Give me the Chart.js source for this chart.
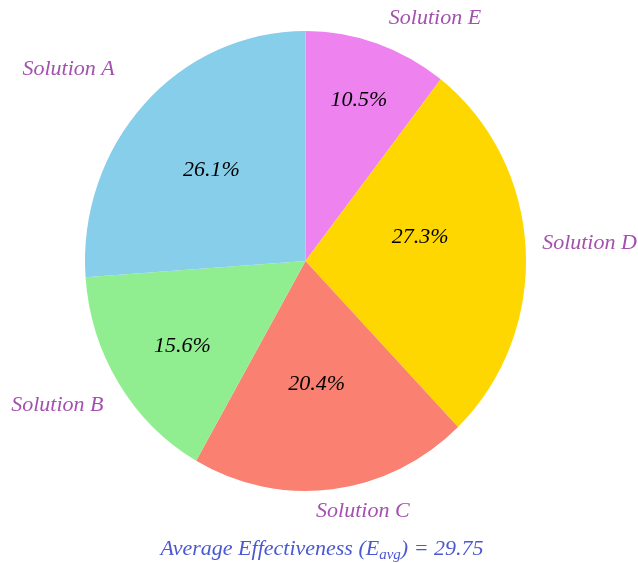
<!DOCTYPE html>
<html>
<head>
<meta charset="utf-8">
<script src="https://cdn.jsdelivr.net/npm/chart.js@4.4.1/dist/chart.umd.min.js"></script>
<style>
  html, body { margin: 0; padding: 0; background: #fff; }
  #wrap { width: 638px; height: 563px; }
</style>
</head>
<body>
<div id="wrap"><canvas id="pie" width="638" height="563"></canvas></div>
<script>
// data — listed clockwise from 12 o'clock (reference runs counter-clockwise A..E)
const labels = ['Solution E', 'Solution D', 'Solution C', 'Solution B', 'Solution A'];
const shares = [10.5, 27.3, 20.4, 15.6, 26.1];
const sliceColors = ['#EE82EE', '#FFD700', '#FA8072', '#90EE90', '#87CEEB'];
const averageValue = 29.75;

// label placement: [radial distance (x radius), angle nudge in degrees]
const PCT_POS = [[0.74, 0.2], [0.53, -8.2], [0.54, 1.7], [0.67, -1.5], [0.58, -0.3]];
const NAME_POS = [[1.12, 0.8], [1.076, -1.2], [1.09, 4.5], [1.11, -2.2], [1.2, 0.9]];

const SERIF = '"Liberation Serif", "Times New Roman", serif';
const Y_STRETCH = 230 / 220.5; // reference pie is slightly taller than wide

const ellipse = {
    id: 'ellipse',
    beforeDatasetsDraw(chart) {
        const arc = chart.getDatasetMeta(0).data[0];
        const c = chart.ctx;
        c.save();
        c.translate(arc.x, arc.y);
        c.scale(1, Y_STRETCH);
        c.translate(-arc.x, -arc.y);
    },
    afterDatasetsDraw(chart) {
        chart.ctx.restore();
    }
};

const pieText = {
    id: 'pieText',
    afterDraw(chart) {
        const c = chart.ctx;
        const arcs = chart.getDatasetMeta(0).data;
        c.save();
        c.font = 'italic 22px ' + SERIF;
        c.textBaseline = 'middle';
        arcs.forEach((arc, i) => {
            const mid = (arc.startAngle + arc.endAngle) / 2;
            const r = arc.outerRadius;

            // percentage inside
            let a = mid + PCT_POS[i][1] * Math.PI / 180;
            let d = PCT_POS[i][0] * r;
            c.fillStyle = '#000';
            c.textAlign = 'center';
            c.fillText(shares[i].toFixed(1) + '%', arc.x + Math.cos(a) * d, arc.y + Math.sin(a) * d * Y_STRETCH);

            // name outside
            a = mid + NAME_POS[i][1] * Math.PI / 180;
            d = NAME_POS[i][0] * r;
            c.fillStyle = '#A450AE';
            c.textAlign = Math.cos(a) < 0 ? 'right' : 'left';
            c.fillText(labels[i], arc.x + Math.cos(a) * d, arc.y + Math.sin(a) * d * Y_STRETCH);
        });

        // footer with subscript
        const pre = 'Average Effectiveness (E';
        const sub = 'avg';
        const post = ') = ' + averageValue;
        c.fillStyle = '#4A58D2';
        c.textAlign = 'left';
        c.textBaseline = 'alphabetic';
        c.font = 'italic 22px ' + SERIF;
        const w1 = c.measureText(pre).width;
        const w3 = c.measureText(post).width;
        c.font = 'italic 15px ' + SERIF;
        const w2 = c.measureText(sub).width;
        let x = 322 - (w1 + w2 + w3) / 2;
        const base = 555;
        c.font = 'italic 22px ' + SERIF;
        c.fillText(pre, x, base);
        x += w1;
        c.font = 'italic 15px ' + SERIF;
        c.fillText(sub, x, base + 4);
        x += w2;
        c.font = 'italic 22px ' + SERIF;
        c.fillText(post, x, base);
        c.restore();
    }
};

new Chart(document.getElementById('pie'), {
    type: 'pie',
    data: {
        labels,
        datasets: [{
            data: shares,
            backgroundColor: sliceColors,
            borderWidth: 0
        }]
    },
    options: {
        responsive: false,
        animation: false,
        layout: { padding: { left: 85, right: 112, top: 40.5, bottom: 81.5 } },
        plugins: {
            legend: { display: false },
            tooltip: { enabled: false },
            title: { display: false }
        }
    },
    plugins: [ellipse, pieText]
});
</script>
</body>
</html>
